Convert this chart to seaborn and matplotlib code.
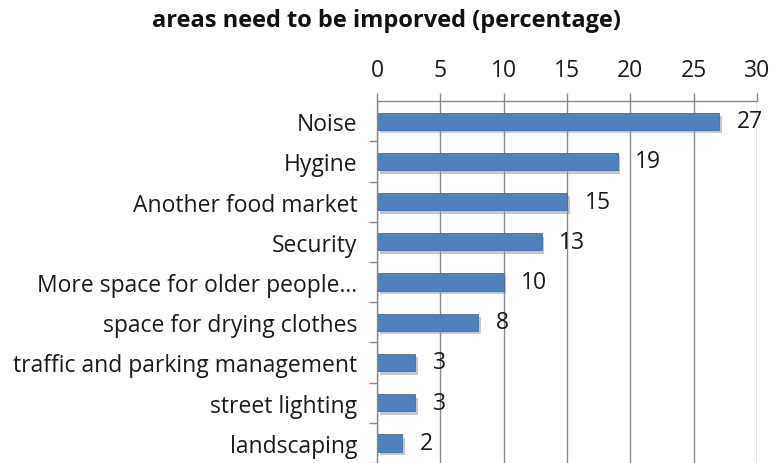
import matplotlib
matplotlib.use("Agg")
import matplotlib.pyplot as plt
import matplotlib.patheffects as pe
import seaborn as sns
import pandas as pd
import numpy as np

categories = ["Noise", "Hygine", "Another food market", "Security",
              "More space for older people...", "space for drying clothes",
              "traffic and parking management", "street lighting", "landscaping"]
values = [27, 19, 15, 13, 10, 8, 3, 3, 2]
x_ticks = [0, 5, 10, 15, 20, 25, 30]

df = pd.DataFrame({"area": categories, "pct": values})

sns.set_style("white")
plt.rcParams["font.family"] = ["Open Sans", "DejaVu Sans"]

fig = plt.figure(figsize=(7.74, 4.64), dpi=100)
ax = fig.add_axes([0.487, 0.0, 0.491, 0.78])

sns.barplot(data=df, x="pct", y="area", orient="h", color="#4F81BD",
            saturation=1, width=0.43, ax=ax)

for bar in ax.patches:
    bar.set_edgecolor("#3C6EAA")
    bar.set_linewidth(0.6)
    bar.set_path_effects([pe.SimplePatchShadow(offset=(2, -2.5), shadow_rgbFace="#9a9a9a", alpha=0.55),
                          pe.Normal()])

for i, v in enumerate(values):
    ax.text(v + 1.4, i, str(v), va="center", ha="left", fontsize=16.5, color="#1a1a1a")

ax.set_xlim(0, 30)
ax.set_ylim(len(categories) - 0.5, -0.5)
ax.set_xticks(x_ticks)
ax.xaxis.tick_top()
ax.tick_params(axis="x", top=True, length=6, width=1, color="#888888",
               labelsize=16.5, pad=8, labelcolor="#1a1a1a")
ax.grid(axis="x", color="#888888", linewidth=1)
ax.set_axisbelow(True)

ax.set_yticks(np.arange(len(categories)) + 0.5, minor=True)
ax.tick_params(axis="y", which="major", length=0, pad=14, labelsize=16.5, labelcolor="#1a1a1a")
ax.tick_params(axis="y", which="minor", left=True, length=6, width=1, color="#888888")
ax.set_yticks(np.arange(len(categories)))
ax.set_yticklabels(categories)

ax.set_xlabel("")
ax.set_ylabel("")
for s in ["right", "bottom"]:
    ax.spines[s].set_visible(False)
for s in ["top", "left"]:
    ax.spines[s].set_color("#888888")
    ax.spines[s].set_linewidth(1)

fig.text(0.5, 0.955, "areas need to be imporved (percentage)", ha="center", va="center",
         fontsize=17, fontweight="bold", color="#111111")

fig.savefig("out.png", dpi=100)
